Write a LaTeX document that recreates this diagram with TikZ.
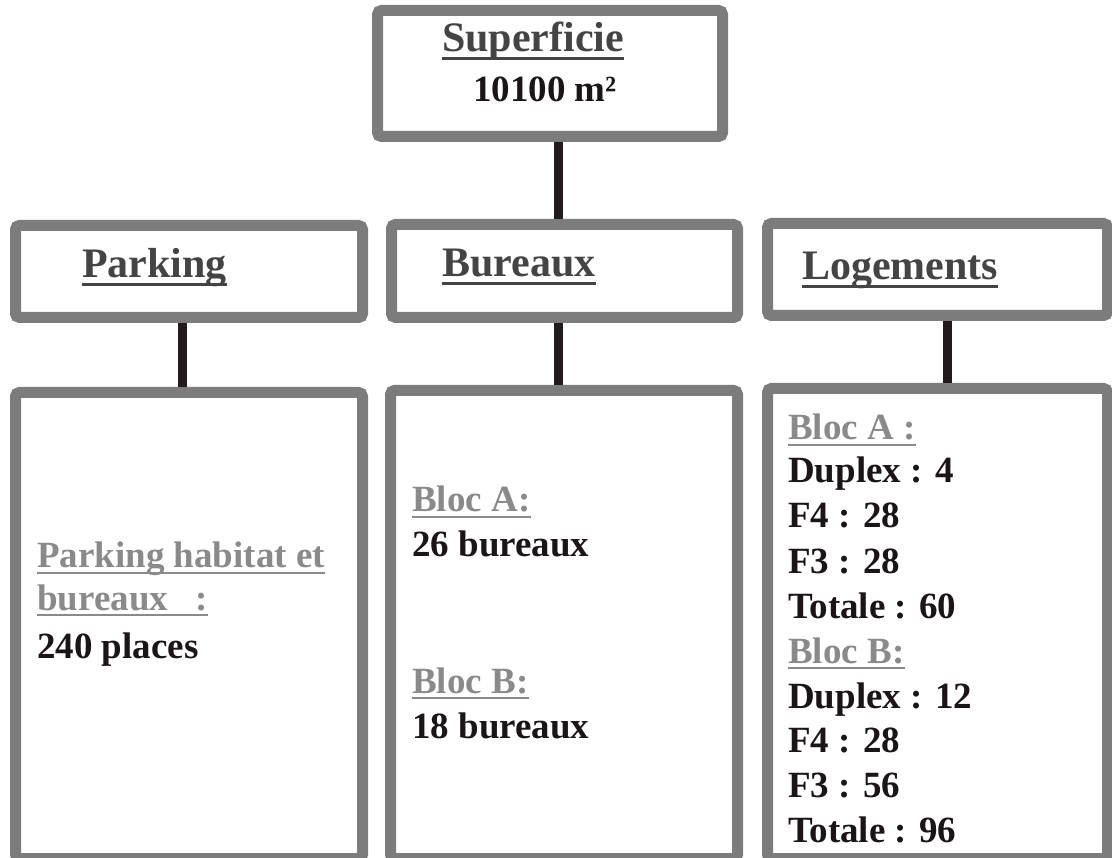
\documentclass[tikz,border=0pt]{standalone}
\usepackage{fontspec}
\setmainfont{Liberation Serif}
\definecolor{boxgray}{HTML}{7C7C7C}
\definecolor{linkdark}{HTML}{221A1C}
\definecolor{headgray}{HTML}{444444}
\definecolor{subgray}{HTML}{8A8A8A}
\definecolor{bodyblack}{HTML}{1C1517}
\begin{document}
\begin{tikzpicture}[x=1pt,y=-1pt,
  box/.style={rectangle, draw=boxgray, line width=11pt, rounded corners=4pt, inner sep=0pt, fill=white},
  link/.style={draw=linkdark, line width=9pt},
  head/.style={anchor=base west, inner sep=0pt, text=headgray, font=\fontsize{42}{50}\selectfont\bfseries},
  sub/.style={anchor=base west, inner sep=0pt, text=subgray, font=\fontsize{37}{45}\selectfont\bfseries},
  body/.style={anchor=base west, inner sep=0pt, text=bodyblack, font=\fontsize{37}{45}\selectfont\bfseries},
  headul/.style={draw=headgray, line width=3pt},
  subul/.style={draw=subgray, line width=2.5pt}]
\useasboundingbox[fill=white] (0,0) rectangle (1112,858);
% boxes
\node[box, minimum width=345pt, minimum height=126pt] (top) at (550,73.5) {};
\node[box, minimum width=347pt, minimum height=92pt] (ptop) at (189,271.5) {};
\node[box, minimum width=346pt, minimum height=93pt] (btop) at (564.5,271) {};
\node[box, minimum width=340pt, minimum height=92pt] (ltop) at (937.5,269.5) {};
\node[box, minimum width=347pt, minimum height=466pt] (pbot) at (189,625.5) {};
\node[box, minimum width=347pt, minimum height=468pt] (bbot) at (564,624.5) {};
\node[box, minimum width=340pt, minimum height=470pt] (lbot) at (937.5,623.5) {};
% connectors
\draw[link] ([xshift=8pt]top.south) -- ([xshift=8pt]top.south |- btop.north);
\draw[link] ([xshift=-7pt]ptop.south) -- ([xshift=-7pt]ptop.south |- pbot.north);
\draw[link] ([xshift=-6.5pt]btop.south) -- ([xshift=-6.5pt]btop.south |- bbot.north);
\draw[link] ([xshift=9.5pt]ltop.south) -- ([xshift=9.5pt]ltop.south |- lbot.north);
% top
\node[head] (hs) at (442,52) {Superficie};
\draw[headul] ([yshift=-7pt]hs.base west) -- ([yshift=-7pt]hs.base east);
\node[body] (sv) at (473,102) {10100 m²};
% headings
\node[head] (hp) at (82,278) {Parking};
\draw[headul] ([yshift=-7pt]hp.base west) -- ([yshift=-7pt]hp.base east);
\node[head] (hb) at (442,277) {Bureaux};
\draw[headul] ([yshift=-7pt]hb.base west) -- ([yshift=-7pt]hb.base east);
\node[head] (hl) at (802,280) {Logements};
\draw[headul] ([yshift=-7pt]hl.base west) -- ([yshift=-7pt]hl.base east);
% parking content
\node[sub] (p1) at (37,568) {Parking habitat et};
\draw[subul] ([yshift=-5pt]p1.base west) -- ([yshift=-5pt]p1.base east);
\node[sub] (p2) at (37,610) {bureaux\hspace{27pt}:};
\draw[subul] ([yshift=-5pt]p2.base west) -- ([yshift=-5pt]p2.base east);
\node[body] (p3) at (37,658) {240 places};
% bureaux content
\node[sub] (b1) at (412,512) {Bloc A:};
\draw[subul] ([yshift=-5pt]b1.base west) -- ([yshift=-5pt]b1.base east);
\node[body] (b2) at (412,557) {26 bureaux};
\node[sub] (b3) at (412,693) {Bloc B:};
\draw[subul] ([yshift=-5pt]b3.base west) -- ([yshift=-5pt]b3.base east);
\node[body] (b4) at (412,738) {18 bureaux};
% logements content
\node[sub] (l1) at (788,440) {Bloc A :};
\draw[subul] ([yshift=-5pt]l1.base west) -- ([yshift=-5pt]l1.base east);
\node[body] (l2) at (788,483) {Duplex : 4};
\node[body] (l3) at (788,528) {F4 : 28};
\node[body] (l4) at (788,573) {F3 : 28};
\node[body] (l5) at (788,618) {Totale : 60};
\node[sub] (l6) at (788,663) {Bloc B:};
\draw[subul] ([yshift=-5pt]l6.base west) -- ([yshift=-5pt]l6.base east);
\node[body] (l7) at (788,708) {Duplex : 12};
\node[body] (l8) at (788,752) {F4 : 28};
\node[body] (l9) at (788,797) {F3 : 56};
\node[body] (l10) at (788,842) {Totale : 96};
\end{tikzpicture}
\end{document}
